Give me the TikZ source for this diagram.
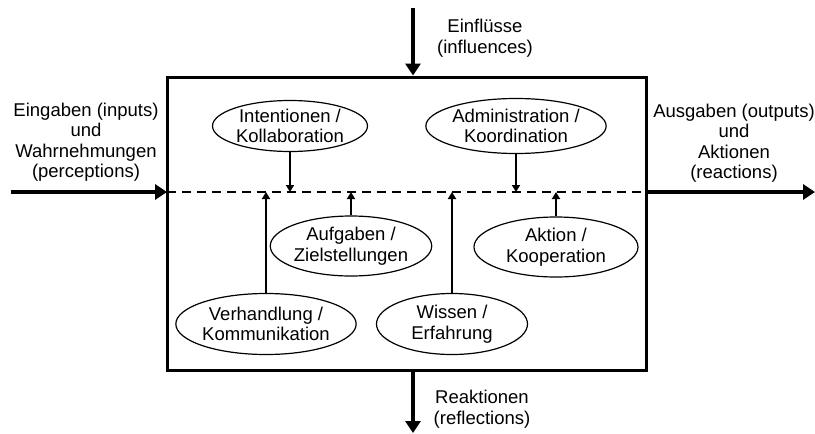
\documentclass[tikz,border=0pt]{standalone}
\usepackage{fontspec}
\setmainfont{Liberation Sans}
\usetikzlibrary{arrows.meta,shapes.geometric,positioning}

\tikzset{
  lbl/.style={font=\fontsize{18.5}{20.5}\selectfont, align=center, inner sep=0pt},
  topic/.style={ellipse, draw, line width=1.2pt, inner sep=0pt, font=\fontsize{18.5}{20.5}\selectfont, align=center},
  flow/.style={line width=4pt, -{Triangle[length=12pt,width=15pt]}},
  link/.style={line width=2pt, -{Triangle[length=7pt,width=8pt]}}
}

\begin{document}
\begin{tikzpicture}[x=1pt,y=-1pt]
\useasboundingbox (0,0) rectangle (815,434);
% System box
\node[draw, line width=3pt, minimum width=479pt, minimum height=293pt, inner sep=0pt] (box) at (406.5,223.5) {};
\coordinate (din) at (167,192);
\coordinate (dout) at (646,192);
\draw[line width=2.5pt, dash pattern=on 9pt off 6pt] (din) -- (dout);
% inputs and outputs
\coordinate (in) at (11,192);
\coordinate (out) at (815,192);
\draw[flow] (in) -- (din);
\draw[flow] (dout) -- (out);
\node[lbl] (linp) at (86,142) {Eingaben (inputs)\\und\\Wahrnehmungen\\(perceptions)};
\node[lbl] (lout) at (734,143) {Ausgaben (outputs)\\und\\Aktionen\\(reactions)};
% influences and reflections
\coordinate (infl) at (413,8);
\coordinate (refl) at (413,433);
\draw[flow] (infl) -- (infl |- box.north);
\draw[flow] (refl |- box.south) -- (refl);
\node[lbl] (linfl) at (485,38) {Einflüsse\\(influences)};
\node[lbl] (lrefl) at (482,409) {Reaktionen\\(reflections)};
% upper topics (pointing down)
\node[topic, minimum width=155pt, minimum height=51pt] (intent) at (290,126) {Intentionen /\\Kollaboration};
\node[topic, minimum width=178pt, minimum height=55pt] (admin) at (516,126) {Administration /\\Koordination};
\draw[link] (intent) -- (intent |- din);
\draw[link] (admin) -- (admin |- din);
% lower topics (pointing up)
\node[topic, minimum width=156pt, minimum height=60pt] (task) at (351,246) {Aufgaben /\\Zielstellungen};
\node[topic, minimum width=164pt, minimum height=60pt] (act) at (556,247) {Aktion /\\Kooperation};
\node[topic, minimum width=171pt, minimum height=61pt] (negot) at (266,324) {Verhandlung /\\Kommunikation};
\node[topic, minimum width=151pt, minimum height=61pt] (know) at (452,324) {Wissen /\\Erfahrung};
\draw[link] (task) -- (task |- din);
\draw[link] (act) -- (act |- din);
\draw[link] (negot) -- (negot |- din);
\draw[link] (know) -- (know |- din);
\end{tikzpicture}
\end{document}
